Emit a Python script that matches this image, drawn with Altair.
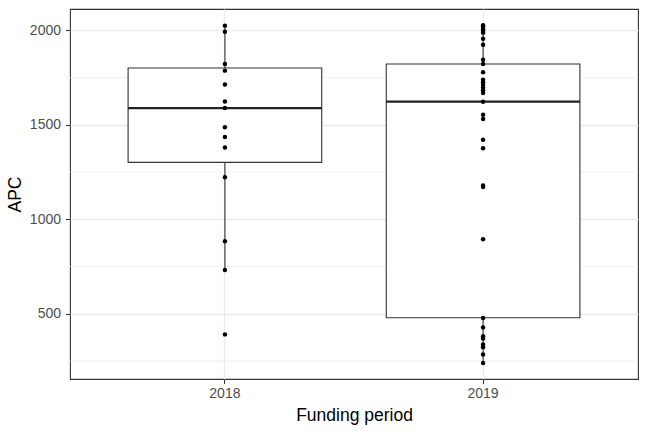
import altair as alt
import pandas as pd

periods = ["2018", "2019"]
apc_2018 = [2024, 1992, 1821, 1786, 1713, 1623, 1588, 1486, 1435, 1379, 1222, 883, 732, 391]
apc_2019 = [2026, 2018, 2011, 2003, 1995, 1987, 1955, 1923, 1844, 1821, 1777, 1738, 1724,
            1710, 1696, 1682, 1668, 1622, 1553, 1530, 1421, 1375, 1178, 1170, 894, 478,
            428, 381, 369, 337, 323, 284, 240]
box_q1 = [1301, 479]
box_median = [1588, 1622]
box_q3 = [1800, 1821]
whisker_low = [732, 240]
whisker_high = [2024, 2026]
major_ticks = [500, 1000, 1500, 2000]
minor_grid = [250, 750, 1250, 1750]

points = pd.DataFrame({
    "period": ["2018"] * len(apc_2018) + ["2019"] * len(apc_2019),
    "APC": apc_2018 + apc_2019,
})
stats = pd.DataFrame({
    "period": periods, "q1": box_q1, "median": box_median, "q3": box_q3,
    "lo": whisker_low, "hi": whisker_high,
})
minor = pd.DataFrame({"v": minor_grid})

dark = "#333333"
xenc = alt.X("period:N", title="Funding period",
             scale=alt.Scale(type="band", paddingInner=0.25, paddingOuter=0.225),
             axis=alt.Axis(labelAngle=0, bandPosition=0.5, grid=True))
yscale = alt.Scale(domain=[155, 2112], nice=False, zero=False)
yaxis = alt.Axis(values=major_ticks, grid=True, format="d")

minor_layer = alt.Chart(minor).mark_rule(color="#EBEBEB", strokeWidth=0.7).encode(
    y=alt.Y("v:Q", scale=yscale, axis=yaxis, title="APC"))

base = alt.Chart(stats)
wlow = base.mark_rule(color=dark, strokeWidth=1.1).encode(
    x=xenc, y=alt.Y("lo:Q", scale=yscale, axis=yaxis, title="APC"), y2="q1:Q")
whigh = base.mark_rule(color=dark, strokeWidth=1.1).encode(
    x=xenc, y=alt.Y("q3:Q", scale=yscale, axis=yaxis, title="APC"), y2="hi:Q")
box = base.mark_bar(fill="white", stroke=dark, strokeWidth=1.1).encode(
    x=xenc, y=alt.Y("q1:Q", scale=yscale, axis=yaxis, title="APC"), y2="q3:Q")
med = base.mark_tick(color="#222222", size=194, thickness=2.2, opacity=1).encode(
    x=xenc, y=alt.Y("median:Q", scale=yscale, axis=yaxis, title="APC"))
pts = alt.Chart(points).mark_circle(size=20, color="black", opacity=1).encode(
    x=xenc, y=alt.Y("APC:Q", scale=yscale, axis=yaxis, title="APC"))

chart = alt.layer(minor_layer, wlow, whigh, box, med, pts).properties(
    width=568, height=370,
    autosize=alt.AutoSizeParams(type="none"),
    padding={"left": 70, "top": 9, "right": 9, "bottom": 53},
).configure_view(stroke=dark, strokeWidth=1.1).configure_axis(
    domain=False, tickColor=dark, tickSize=4.5, tickWidth=1.1,
    labelColor="#4D4D4D", labelFontSize=14, labelFont="Liberation Sans",
    titleFont="Liberation Sans", titleFontSize=17.5, titleFontWeight="normal",
    titleColor="black", gridColor="#EBEBEB", gridWidth=1.3,
).configure_axisX(labelPadding=3, titlePadding=6).configure_axisY(
    labelPadding=5, titlePadding=5)

chart.save("out.html", embed_options={"renderer": "svg", "actions": False})
